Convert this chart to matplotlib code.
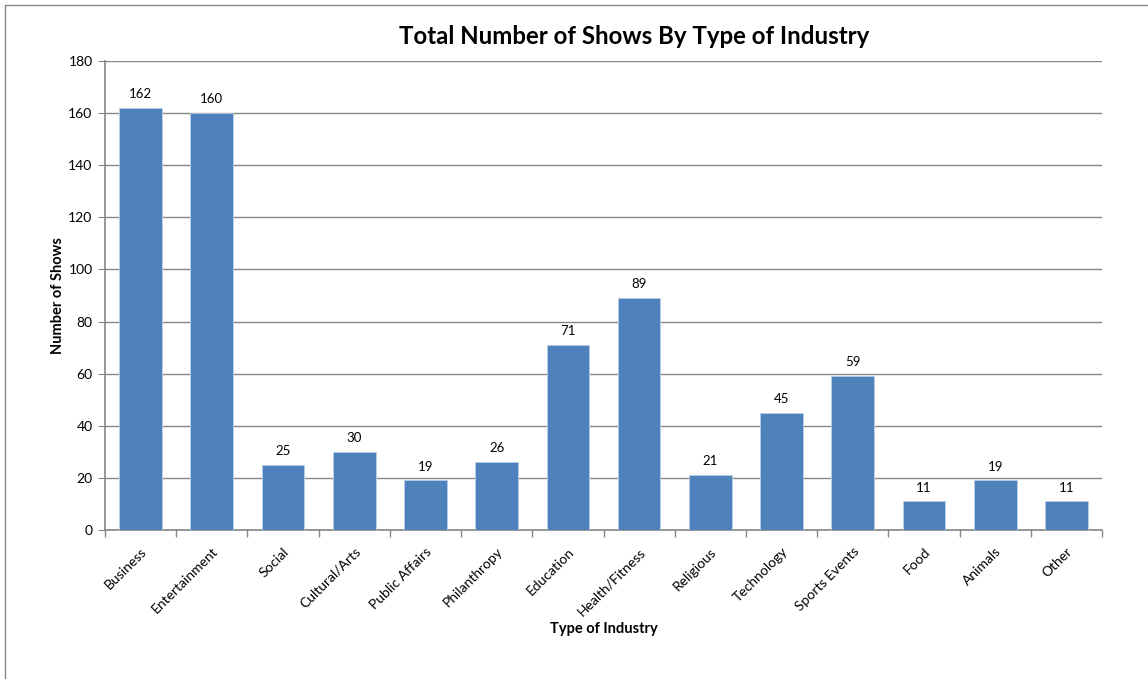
import matplotlib
matplotlib.use("Agg")
import matplotlib.pyplot as plt
import matplotlib.patches as patches
import numpy as np

plt.rcParams['font.family'] = ['Lato', 'DejaVu Sans']

industries = ['Business', 'Entertainment', 'Social', 'Cultural/Arts', 'Public Affairs',
              'Philanthropy', 'Education', 'Health/Fitness', 'Religious', 'Technology',
              'Sports Events', 'Food', 'Animals', 'Other']
shows = [162, 160, 25, 30, 19, 26, 71, 89, 21, 45, 59, 11, 19, 11]
y_ticks = [0, 20, 40, 60, 80, 100, 120, 140, 160, 180]

W, H = 1148, 679
fig = plt.figure(figsize=(W / 100, H / 100), dpi=100)

# cadre gris du graphique (seulement gauche/haut visibles)
fig.patches.append(patches.Rectangle((5 / W, -0.1), 1.2, 1 - 5 / H + 0.1,
                                     transform=fig.transFigure, fill=False,
                                     edgecolor='#878787', linewidth=1))

ax = fig.add_axes([105 / W, 1 - 530 / H, (1102 - 105) / W, (530 - 61) / H])

x = np.arange(len(industries))
bars = ax.bar(x, shows, width=0.6, color='#4F81BD', edgecolor='#B9CDE5', linewidth=0.6, zorder=3)

for xi, v in zip(x, shows):
    ax.text(xi, v + 3, str(v), ha='center', va='bottom', fontsize=9.5, color='black')

ax.set_xlim(-0.5, len(industries) - 0.5)
ax.set_ylim(0, 180)
ax.set_yticks(y_ticks)
ax.tick_params(axis='y', labelsize=10, length=5, color='#868686', pad=4)
ax.grid(axis='y', color='#868686', linewidth=1, zorder=0)

# ticks x entre les catégories
ax.set_xticks(np.arange(-0.5, len(industries), 1.0))
ax.set_xticklabels([])
ax.tick_params(axis='x', length=5, color='#868686', width=1)
ax.set_xticks(x, minor=True)
ax.set_xticklabels(industries, minor=True, rotation=45, ha='right', va='top',
                   rotation_mode='anchor', fontsize=10)
ax.tick_params(axis='x', which='minor', length=0, pad=11)

for s in ['top', 'right']:
    ax.spines[s].set_visible(False)
for s in ['left', 'bottom']:
    ax.spines[s].set_color('#868686')
    ax.spines[s].set_linewidth(1.2)

# titre centré sur la zone du graphique (pas sur les axes)
fig.text(634 / W, 1 - 37 / H, 'Total Number of Shows By Type of Industry',
         fontsize=17.3, fontweight='bold', ha='center', va='center')
ax.set_ylabel('Number of Shows', fontsize=10.5, fontweight='bold', labelpad=2)
ax.set_xlabel('Type of Industry', fontsize=10.5, fontweight='bold', labelpad=3)

fig.savefig('out.png', dpi=100)
